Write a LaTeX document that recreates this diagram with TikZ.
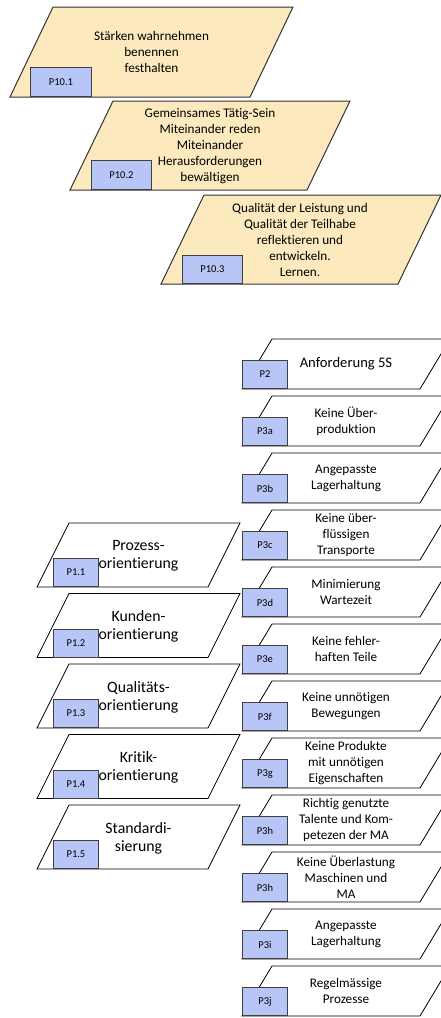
\documentclass[tikz,border=0pt]{standalone}
\usepackage{fontspec}
\setmainfont[Ligatures={NoCommon}]{Carlito}
\definecolor{pgtan}{HTML}{FCE9BD}
\definecolor{lblue}{HTML}{B7C6F7}
\begin{document}
\begin{tikzpicture}[x=1pt,y=-1pt,
  shapeline/.style={draw=black, line width=0.8pt, line join=miter},
  topline/.style={draw=black!80, fill=pgtan, line width=1pt, line join=miter},
  tagbox/.style={draw=black!75, fill=lblue, line width=0.9pt, inner sep=0pt,
     font=\fontsize{10.5}{12}\selectfont, anchor=south west},
  bodytext/.style={align=center, font=\fontsize{13.2}{16}\selectfont, inner sep=0pt},
  bigtext/.style={align=center, font=\fontsize{15.8}{18}\selectfont, inner sep=0pt}]
\useasboundingbox (0,0) rectangle (441,1018);
\clip (0,0) rectangle (441,1018);

% ---- top group ----
\draw[topline] (10,97) -- ++(240,0) -- ++(43,-90) -- ++(-240,0) -- cycle;
\node[bodytext] (t1) at (151.5,52) {Stärken wahrnehmen\\benennen\\festhalten};
\node[tagbox, minimum width=61pt, minimum height=29pt] (b1) at (30,97) {P10.1};

\draw[topline] (70,190) -- ++(237,0) -- ++(43,-89) -- ++(-237,0) -- cycle;
\node[bodytext] (t2) at (210,146) {Gemeinsames Tätig-Sein\\Miteinander reden\\Miteinander\\Herausforderungen\\bewältigen};
\node[tagbox, minimum width=60pt, minimum height=29pt] (b2) at (91,190) {P10.2};

\draw[topline] (161,284) -- ++(237,0) -- ++(43,-89) -- ++(-237,0) -- cycle;
\node[bodytext] (t3) at (300,240) {Qualität der Leistung und\\Qualität der Teilhabe\\reflektieren und\\entwickeln.\\Lernen.};
\node[tagbox, minimum width=60pt, minimum height=28pt] (b3) at (182,284) {P10.3};

% ---- right column ----
\foreach \k/\tg/\txt in {
  0/P2/{\fontsize{14.6}{17}\selectfont Anforderung 5S},
  1/P3a/{Keine Über-\\produktion},
  2/P3b/{Angepasste\\Lagerhaltung},
  3/P3c/{Keine über-\\flüssigen\\Transporte},
  4/P3d/{Minimierung\\Wartezeit},
  5/P3e/{Keine fehler-\\haften Teile},
  6/P3f/{Keine unnötigen\\Bewegungen},
  7/P3g/{Keine Produkte\\mit unnötigen\\Eigenschaften},
  8/P3h/{Richtig genutzte\\Talente und Kom-\\petezen der MA},
  9/P3h/{Keine Überlastung\\Maschinen und\\MA},
  10/P3i/{Angepasste\\Lagerhaltung},
  11/P3j/{Regelmässige\\Prozesse}} {
  \pgfmathsetmacro\yb{389+57*\k}
  \draw[shapeline] (242,\yb) -- ++(178,0) -- ++(30,-50) -- ++(-178,0) -- cycle;
  \node[bodytext] (rt\k) at (346,\yb-25) {\txt};
  \node[tagbox, minimum width=45pt, minimum height=28pt] (rb\k) at (242,\yb) {\tg};
}

% ---- left column ----
\foreach \k/\tg/\txt in {
  0/P1.1/{Prozess-\\orientierung},
  1/P1.2/{Kunden-\\orientierung},
  2/P1.3/{Qualitäts-\\orientierung},
  3/P1.4/{Kritik-\\orientierung},
  4/P1.5/{Standardi-\\sierung}} {
  \pgfmathsetmacro\yb{587+70.5*\k}
  \draw[shapeline] (37,\yb) -- ++(171,0) -- ++(32,-64) -- ++(-171,0) -- cycle;
  \node[bigtext] (lt\k) at (138.5,\yb-31) {\txt};
  \node[tagbox, minimum width=45pt, minimum height=28pt] (lb\k) at (53,\yb) {\tg};
}
\end{tikzpicture}
\end{document}
